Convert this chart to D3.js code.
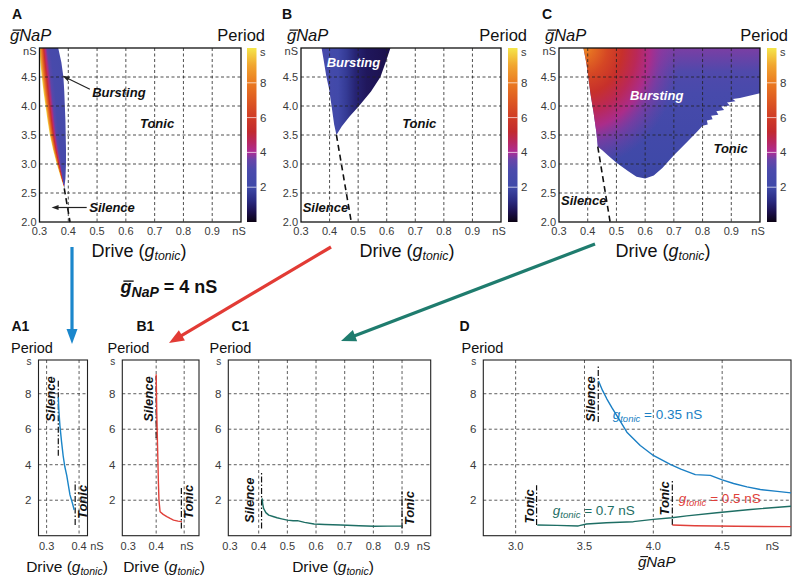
<!DOCTYPE html>
<html><head><meta charset="utf-8">
<script src="https://cdn.jsdelivr.net/npm/d3@7"></script>
<style>body{margin:0;background:#fff}svg{display:block;font-family:"Liberation Sans",Arial,Helvetica,sans-serif}</style>
</head><body>
<svg id="c" width="800" height="579"></svg>
<script>
// ================= DATA =================
// colour map of the period (s)
const cmapPeriods=[0,0.6,1.2,2,3,3.6,4,4.6,5.2,6,7,8,9,10];
const cmapColors=["#0b0214","#1c1150","#2a2a80","#3e49a8","#4b4aac","#6a44a8","#ad2c96","#b82760","#c22a2e","#cf3b26","#de5a22","#ea7b22","#f1a52f","#f5e64a"];
const periodTicks=[2,4,6,8];
const driveTicks=[0.3,0.4,0.5,0.6,0.7,0.8,0.9];
const gnapTicks=[2.0,2.5,3.0,3.5,4.0,4.5];

// Panel A : bursting region (edges at the same gNaP levels)
const gnapA=[5.0,4.75,4.5,4.25,4.0,3.75,3.5,3.25,3.0,2.75,2.58];
const leftA=[0.300,0.303,0.308,0.314,0.321,0.328,0.336,0.347,0.360,0.375,0.386];
const rightA=[0.365,0.376,0.383,0.386,0.388,0.390,0.391,0.392,0.392,0.390,0.386];
const fracA=[0,0.07,0.15,0.22,0.30,0.40,0.55,1];
const periodA=[9.8,8.5,7.0,5.5,4.3,3.3,2.8,2.6];
const sepA=[[0.386,2.58],[0.406,2.0]];

// Panel B
const regionB=[[0.370,5.0],[0.613,5.0],[0.596,4.75],[0.578,4.5],[0.545,4.25],[0.503,4.0],[0.470,3.82],[0.443,3.65],[0.424,3.50],[0.416,3.68],[0.407,4.0],[0.398,4.3],[0.389,4.5],[0.379,4.8],[0.372,5.0]];
const driveGradB=[0.37,0.376,0.39,0.43,0.46,0.49,0.53,0.613];
const periodB=[3.6,2.8,2.5,2.2,1.6,1.05,0.75,0.55];
const sepB=[[0.424,3.5],[0.476,2.0]];

// Panel C
const regionC=[[0.385,5.0],[1.0,5.0],[1.0,4.22],[0.93,4.14],[0.905,4.12],[0.915,4.08],[0.885,4.06],[0.895,4.01],[0.865,3.99],[0.875,3.93],[0.848,3.91],[0.855,3.85],[0.83,3.83],[0.835,3.77],[0.815,3.75],[0.818,3.68],[0.80,3.66],[0.78,3.55],[0.74,3.35],[0.70,3.15],[0.66,2.93],[0.63,2.80],[0.60,2.75],[0.57,2.78],[0.54,2.88],[0.50,3.02],[0.47,3.15],[0.45,3.24],[0.435,3.30],[0.43,3.55],[0.42,3.9],[0.41,4.2],[0.402,4.5],[0.395,4.75],[0.385,5.0]];
const gnapGradC=[5.0,4.6,4.2,3.6,3.0,2.75];
const periodBaseC=[3.7,3.1,2.7,2.35,2.05,1.9];
const hotCentreC=[0.385,5.05];
const hotRadiusC=0.34;
const radFracC=[0,0.1,0.25,0.4,0.55,0.68,0.8,1];
const periodHotC=[8.6,7.6,6.4,5.5,4.7,4.15,3.85,3.7];
const opacityHotC=[1,1,1,1,1,0.95,0.6,0];
const sepC=[[0.435,3.3],[0.478,2.0]];

// Bottom panels (gNaP = 4 nS)
const periodAxisTicks=[2,4,6,8];
const driveA1=[0.336,0.338,0.341,0.346,0.351,0.356,0.362,0.372,0.380,0.385];
const periodA1=[7.8,7.0,6.2,5.3,4.5,3.9,3.4,2.3,1.8,1.45];
const driveB1=[0.400,0.402,0.405,0.408,0.410,0.414,0.425,0.438,0.450,0.462,0.478,0.492];
const periodB1=[9.1,7.0,5.0,3.0,2.0,1.35,1.2,1.07,0.97,0.88,0.82,0.79];
const driveC1=[0.412,0.414,0.417,0.425,0.435,0.45,0.464,0.48,0.50,0.52,0.535,0.56,0.593,0.63,0.687,0.75,0.803,0.85,0.90];
const periodC1=[2.1,1.8,1.54,1.3,1.16,1.08,1.01,0.95,0.88,0.84,0.85,0.75,0.66,0.63,0.60,0.56,0.53,0.54,0.54];
const gnapD035=[3.602,3.63,3.663,3.70,3.735,3.808,3.905,4.0,4.123,4.2,4.305,4.414,4.5,4.583,4.68,4.777,4.9,5.0];
const periodD035=[8.72,8.2,7.7,7.2,6.76,5.83,5.08,4.52,4.02,3.75,3.44,3.40,3.15,2.94,2.75,2.6,2.5,2.41];
const gnapD07=[3.157,3.3,3.455,3.515,3.66,3.855,4.0,4.134,4.243,4.461,4.705,5.0];
const periodD07=[0.6,0.58,0.55,0.66,0.73,0.79,0.92,1.01,1.12,1.29,1.48,1.66];
const gnapD05=[4.138,4.3,4.6,5.0];
const periodD05=[0.6,0.56,0.53,0.51];
const markersA1=[{x:0.336,y0:4.5,y1:8.8,label:"Silence",side:-1,ty:7.7},{x:0.388,y0:0.6,y1:3.05,label:"Tonic",side:1,ty:1.9}];
const markersB1=[{x:0.400,y0:5.5,y1:9.0,label:"Silence",side:-1,ty:7.7},{x:0.490,y0:0.4,y1:2.75,label:"Tonic",side:1,ty:1.9}];
const markersC1=[{x:0.410,y0:0.4,y1:3.6,label:"Silence",side:-1.6,ty:2.0},{x:0.900,y0:0.4,y1:2.5,label:"Tonic",side:1,ty:1.55}];
const markersD=[{x:3.600,y0:6.4,y1:9.56,label:"Silence",side:-1,ty:7.7},{x:3.152,y0:0.6,y1:2.84,label:"Tonic",side:-1,ty:1.65},{x:4.138,y0:0.6,y1:3.2,label:"Tonic",side:-1.1,ty:2.1}];

// ================= DRAW =================
const svg=d3.select("#c");
const defs=svg.append("defs");
const cmap=d3.scaleLinear().domain(cmapPeriods).range(cmapColors).clamp(true);
const TICK="#3a3a3a";
let uid=0;

function makeLinearGrad(id,offsets,periods,attrs,units,opac){
  const gr=defs.append("linearGradient").attr("id",id).attr("gradientUnits",units||"objectBoundingBox");
  Object.entries(attrs).forEach(([k,v])=>gr.attr(k,v));
  offsets.forEach((o,i)=>gr.append("stop").attr("offset",o).attr("stop-color",cmap(periods[i])).attr("stop-opacity",opac?opac[i]:1));
  return "url(#"+id+")";
}

function gbarText(g,x,y,size,o){
  o=o||{};
  const col=o.color||"#111";
  const t=g.append("text").attr("x",x).attr("y",y).attr("font-size",size).attr("font-style","italic")
    .attr("font-weight",o.weight||"normal").attr("text-anchor",o.anchor||"start").attr("fill",col);
  t.append("tspan").text("g");
  if(o.sub){
    t.append("tspan").attr("font-size",size*0.78).attr("dy",size*0.22).text("NaP");
    if(o.suffix) t.append("tspan").attr("dy",-size*0.22).attr("font-size",size).attr("font-style","normal").text(o.suffix);
  } else t.append("tspan").text("NaP");
  const node=t.node();
  const gw=node.getSubStringLength(0,1);
  const sx=node.getStartPositionOfChar(0).x;
  g.append("line").attr("x1",sx+size*0.16).attr("x2",sx+gw+size*0.12).attr("y1",y-size*0.66).attr("y2",y-size*0.66)
    .attr("stroke",col).attr("stroke-width",Math.max(1,size*0.075));
}

function driveLabel(g,cx,y,size){
  const t=g.append("text").attr("x",cx).attr("y",y).attr("font-size",size).attr("text-anchor","middle").attr("fill","#111");
  t.append("tspan").text("Drive (");
  t.append("tspan").attr("font-style","italic").text("g");
  t.append("tspan").attr("font-style","italic").attr("font-size",size*0.68).attr("dy",size*0.22).text("tonic");
  t.append("tspan").attr("dy",-size*0.22).text(")");
}

function arrow(g,x1,y1,x2,y2,color,w,hl,hw){
  const dx=x2-x1,dy=y2-y1,L=Math.hypot(dx,dy),ux=dx/L,uy=dy/L;
  const bx=x2-ux*hl,by=y2-uy*hl;
  g.append("line").attr("x1",x1).attr("y1",y1).attr("x2",bx+ux).attr("y2",by+uy).attr("stroke",color).attr("stroke-width",w);
  g.append("path").attr("d",`M${x2},${y2}L${bx-uy*hw/2},${by+ux*hw/2}L${bx+uy*hw/2},${by-ux*hw/2}Z`).attr("fill",color);
}

function italicBold(g,x,y,txt,color,size,anchor){
  return g.append("text").attr("x",x).attr("y",y).attr("font-size",size||13).attr("font-weight","bold").attr("font-style","italic")
    .attr("fill",color||"#111").attr("text-anchor",anchor||"start").text(txt);
}

// ---------- top panels ----------
function topPanel(p){
  const g=svg.append("g");
  const x=d3.scaleLinear().domain([0.3,1.0]).range([p.x0,p.x1]);
  const y=d3.scaleLinear().domain([2.0,5.0]).range([222,48]);
  const line=d3.line().x(d=>x(d[0])).y(d=>y(d[1]));
  const cid="clip"+(uid++);
  defs.append("clipPath").attr("id",cid).append("rect").attr("x",p.x0).attr("y",48).attr("width",p.x1-p.x0).attr("height",174);
  const plot=g.append("g").attr("clip-path",`url(#${cid})`);
  p.region(plot,x,y,line);
  // grid
  g.append("g").selectAll("line").data(driveTicks.filter(d=>d>0.3)).join("line")
    .attr("x1",d=>x(d)).attr("x2",d=>x(d)).attr("y1",48).attr("y2",222)
    .attr("stroke","#222").attr("stroke-width",0.8).attr("stroke-dasharray","3,2.5");
  g.append("g").selectAll("line").data(gnapTicks.filter(d=>d>2)).join("line")
    .attr("y1",d=>y(d)).attr("y2",d=>y(d)).attr("x1",p.x0).attr("x2",p.x1)
    .attr("stroke","#222").attr("stroke-width",0.8).attr("stroke-dasharray","3,2.5");
  // separatrix
  g.append("path").attr("d",line(p.sep)).attr("fill","none").attr("stroke","#111").attr("stroke-width",1.6).attr("stroke-dasharray","6,4");
  // frame
  g.append("rect").attr("x",p.x0).attr("y",48).attr("width",p.x1-p.x0).attr("height",174).attr("fill","none").attr("stroke","#111").attr("stroke-width",1.3);
  // tick labels
  g.append("g").selectAll("text").data(driveTicks).join("text").attr("x",d=>x(d)).attr("y",235).attr("text-anchor","middle")
    .attr("font-size",11).attr("fill",TICK).text(d3.format(".1f"));
  g.append("text").attr("x",x(1.0)-2).attr("y",235).attr("text-anchor","middle").attr("font-size",11).attr("fill",TICK).text("nS");
  g.append("g").selectAll("text").data(gnapTicks).join("text").attr("x",p.x0-3).attr("y",d=>y(d)).attr("dy","0.35em").attr("text-anchor","end")
    .attr("font-size",11).attr("fill",TICK).text(d3.format(".1f"));
  g.append("text").attr("x",p.x0-3).attr("y",y(5.0)+3).attr("dy","0.35em").attr("text-anchor","end").attr("font-size",11).attr("fill",TICK).text("nS");
  // colorbar
  const cb=d3.scaleLinear().domain([0,10]).range([222,48]);
  const gid="cbg"+(uid++);
  const gr=defs.append("linearGradient").attr("id",gid).attr("x1",0).attr("y1",1).attr("x2",0).attr("y2",0);
  cmapPeriods.forEach((v,i)=>gr.append("stop").attr("offset",v/10).attr("stop-color",cmapColors[i]));
  g.append("rect").attr("x",p.cbx).attr("y",cb(10)).attr("width",9.5).attr("height",cb(0)-cb(10)).attr("fill",`url(#${gid})`);
  g.append("g").selectAll("line").data(periodTicks).join("line").attr("x1",p.cbx).attr("x2",p.cbx+9.5).attr("y1",d=>cb(d)).attr("y2",d=>cb(d))
    .attr("stroke","#fff").attr("stroke-opacity",0.75).attr("stroke-width",0.9);
  g.append("g").selectAll("text").data(periodTicks).join("text").attr("x",p.cbx+13).attr("y",d=>cb(d)).attr("dy","0.35em")
    .attr("font-size",11.5).attr("fill",TICK).text(d=>d);
  g.append("text").attr("x",p.cbx+13).attr("y",cb(10)+4).attr("dy","0.35em").attr("font-size",11).attr("fill",TICK).text("s");
  // titles
  g.append("text").attr("x",p.letterX).attr("y",18.5).attr("font-size",14).attr("font-weight","bold").attr("fill","#111").text(p.letter);
  gbarText(g,p.gX,41,16.5);
  g.append("text").attr("x",p.periodEnd).attr("y",41).attr("text-anchor","end").attr("font-size",16.5).attr("fill","#111").text("Period");
  driveLabel(g,p.driveC,256.5,18);
  // region labels
  italicBold(g,x(p.burst[0]),y(p.burst[1]),"Bursting",p.burstColor);
  italicBold(g,x(p.tonic[0]),y(p.tonic[1]),"Tonic");
  italicBold(g,x(p.silence[0]),y(p.silence[1]),"Silence");
  return {g,x,y};
}

// Panel A
const A=topPanel({x0:39.5,x1:241,cbx:247,letter:"A",letterX:12,gX:10,periodEnd:265,driveC:139,sep:sepA,
  burst:[0.483,4.16],burstColor:"#111",tonic:[0.649,3.62],silence:[0.473,2.18],
  region:(plot,x,y)=>{
    const fill=makeLinearGrad("gradA",fracA,periodA,{x1:0,y1:0,x2:1,y2:0});
    const lA=d3.scaleLinear().domain(gnapA).range(leftA);
    const rA=d3.scaleLinear().domain(gnapA).range(rightA);
    const gMin=d3.min(gnapA);
    for(let py=Math.round(y(d3.max(gnapA)));py<y(gMin);py++){
      const gv=y.invert(py+0.5); if(gv<gMin) break;
      const xl=x(lA(gv)),xr=x(rA(gv));
      plot.append("rect").attr("x",xl).attr("y",py).attr("width",Math.max(0.4,xr-xl)).attr("height",1.05).attr("fill",fill);
    }
  }});
// annotation arrows in A
arrow(A.g,A.x(0.475),A.y(4.29),A.x(0.38),A.y(4.52),"#222",1.2,7,5);
arrow(A.g,A.x(0.464),A.y(2.25),A.x(0.342),A.y(2.25),"#222",1.2,7,5);

// Panel B
topPanel({x0:301,x1:501,cbx:508,letter:"B",letterX:282,gX:287,periodEnd:527,driveC:407,sep:sepB,
  burst:[0.39,4.68],burstColor:"#fff",tonic:[0.654,3.62],silence:[0.306,2.18],
  region:(plot,x,y,line)=>{
    const x1=x(driveGradB[0]),x2=x(driveGradB[driveGradB.length-1]);
    const fill=makeLinearGrad("gradB",driveGradB.map(d=>(x(d)-x1)/(x2-x1)),periodB,{x1:x1,y1:0,x2:x2,y2:0},"userSpaceOnUse");
    plot.append("path").attr("d",line(regionB)+"Z").attr("fill",fill);
  }});

// Panel C
topPanel({x0:559,x1:760,cbx:767,letter:"C",letterX:542,gX:545,periodEnd:788,driveC:663,sep:sepC,
  burst:[0.547,4.1],burstColor:"#fff",tonic:[0.838,3.19],silence:[0.307,2.29],
  region:(plot,x,y,line)=>{
    const y1=y(gnapGradC[0]),y2=y(gnapGradC[gnapGradC.length-1]);
    const base=makeLinearGrad("gradC",gnapGradC.map(d=>(y(d)-y1)/(y2-y1)),periodBaseC,{x1:0,y1:y1,x2:0,y2:y2},"userSpaceOnUse");
    plot.append("path").attr("d",line(regionC)+"Z").attr("fill",base);
    const cx=x(hotCentreC[0]),cy=y(hotCentreC[1]),R=x(hotCentreC[0]+hotRadiusC)-cx;
    const rg=defs.append("radialGradient").attr("id","hotC").attr("gradientUnits","userSpaceOnUse")
      .attr("cx",cx).attr("cy",cy).attr("r",R).attr("fx",cx).attr("fy",cy)
      .attr("gradientTransform",`translate(${cx},${cy}) scale(1,1.25) translate(${-cx},${-cy})`);
    radFracC.forEach((o,i)=>rg.append("stop").attr("offset",o).attr("stop-color",cmap(periodHotC[i])).attr("stop-opacity",opacityHotC[i]));
    plot.append("path").attr("d",line(regionC)+"Z").attr("fill","url(#hotC)");
  }});

// ---------- connecting arrows ----------
const arr=svg.append("g");
arrow(arr,72,247,72,344,"#1b87cc",3.2,15,11);
arrow(arr,331,247,169,343,"#e23b35",3.2,15,12);
arrow(arr,595,244,341,341,"#1f7c6e",3.2,15,12);
gbarText(svg,120.5,293,18,{weight:"bold",sub:true,suffix:" = 4 nS"});

// ---------- bottom panels ----------
function bottomPanel(p){
  const g=svg.append("g");
  const x=d3.scaleLinear().domain(p.domain).range([p.x0,p.x1]);
  const y=d3.scaleLinear().domain([0,9.9]).range([535.7,360]);
  g.append("g").selectAll("line").data(p.grid).join("line").attr("x1",d=>x(d)).attr("x2",d=>x(d)).attr("y1",360).attr("y2",535.7)
    .attr("stroke","#333").attr("stroke-width",0.8).attr("stroke-dasharray","3,2.5");
  g.append("g").selectAll("line").data(periodAxisTicks).join("line").attr("y1",d=>y(d)).attr("y2",d=>y(d)).attr("x1",p.x0).attr("x2",p.x1)
    .attr("stroke","#333").attr("stroke-width",0.8).attr("stroke-dasharray","3,2.5");
  g.append("rect").attr("x",p.x0).attr("y",360).attr("width",p.x1-p.x0).attr("height",175.7).attr("fill","none").attr("stroke","#222").attr("stroke-width",1.1);
  // markers
  p.markers.forEach(m=>{
    g.append("line").attr("x1",x(m.x)).attr("x2",x(m.x)).attr("y1",y(m.y0)).attr("y2",y(m.y1))
      .attr("stroke","#111").attr("stroke-width",1.2).attr("stroke-dasharray","6,2,1.5,2");
    italicBold(g,0,0,m.label,"#111",13,"middle").attr("dy","0.35em")
      .attr("transform",`translate(${x(m.x)+m.side*7.5},${y(m.ty)}) rotate(-90)`);
  });
  const line=d3.line().x(d=>x(d[0])).y(d=>y(d[1]));
  p.curves.forEach(c=>{
    g.append("path").attr("d",line(d3.zip(c.xs,c.ys))).attr("fill","none").attr("stroke",c.color).attr("stroke-width",1.4).attr("stroke-linejoin","round");
  });
  // ticks
  g.append("g").selectAll("text").data(p.ticks).join("text").attr("x",d=>x(d)).attr("y",550).attr("text-anchor","middle")
    .attr("font-size",11).attr("fill",TICK).text(d3.format(".1f"));
  g.append("text").attr("x",x(p.nS)).attr("y",550).attr("text-anchor","middle").attr("font-size",11).attr("fill",TICK).text("nS");
  g.append("g").selectAll("text").data(periodAxisTicks).join("text").attr("x",p.x0-7).attr("y",d=>y(d)).attr("dy","0.35em")
    .attr("text-anchor","end").attr("font-size",11.5).attr("fill",TICK).text(d=>d);
  g.append("text").attr("x",p.x0-7).attr("y",y(9.9)+1).attr("dy","0.35em").attr("text-anchor","end").attr("font-size",10).attr("fill",TICK).text("s");
  g.append("text").attr("x",p.letterX).attr("y",330.5).attr("font-size",14).attr("font-weight","bold").attr("fill","#111").text(p.letter);
  g.append("text").attr("x",p.periodX).attr("y",353).attr("font-size",14.5).attr("fill","#111").text("Period");
  return {g,x,y};
}

bottomPanel({x0:38.5,x1:87.5,domain:[0.275,0.426],grid:[0.3,0.4],ticks:[0.3,0.4],nS:0.455,letter:"A1",letterX:11.5,periodX:11,
  markers:markersA1,curves:[{xs:driveA1,ys:periodA1,color:"#1a85c8"}]});
bottomPanel({x0:122.3,x1:199,domain:[0.279,0.553],grid:[0.4,0.5],ticks:[0.3,0.4],nS:0.51,letter:"B1",letterX:136.5,periodX:107.5,
  markers:markersB1,curves:[{xs:driveB1,ys:periodB1,color:"#e0403a"}]});
bottomPanel({x0:228.3,x1:430.7,domain:[0.294,1.0],grid:[0.4,0.5,0.6,0.7,0.8,0.9],ticks:driveTicks,nS:0.975,letter:"C1",letterX:231.5,periodX:209.5,
  markers:markersC1,curves:[{xs:driveC1,ys:periodC1,color:"#1e6e64"}]});
const D=bottomPanel({x0:483.3,x1:791,domain:[2.765,5.0],grid:[3.0,3.5,4.0,4.5],ticks:[3.0,3.5,4.0,4.5],nS:4.865,letter:"D",letterX:459.5,periodX:461.5,
  markers:markersD,curves:[{xs:gnapD035,ys:periodD035,color:"#1a7fc4"},{xs:gnapD07,ys:periodD07,color:"#1e6e64"},{xs:gnapD05,ys:periodD05,color:"#e0403a"}]});

// bottom x labels
driveLabel(svg,67,571.5,15.5);
driveLabel(svg,164,571.5,15.5);
driveLabel(svg,333,571.5,15.5);
gbarText(svg,656.7,566.5,15,{anchor:"middle"});

// curve labels in D
function gtonicLabel(g,x,y,val,color){
  const t=g.append("text").attr("x",x).attr("y",y).attr("font-size",13.5).attr("fill",color);
  t.append("tspan").attr("font-style","italic").text("g");
  t.append("tspan").attr("font-style","italic").attr("font-size",9.5).attr("dy",3).text("tonic");
  t.append("tspan").attr("dy",-3).text(" = "+val+" nS");
}
gtonicLabel(D.g,D.x(3.705),D.y(6.6),"0.35","#1a7fc4");
gtonicLabel(D.g,D.x(3.27),D.y(1.17),"0.7","#1e6e64");
gtonicLabel(D.g,D.x(4.185),D.y(1.82),"0.5","#e0403a");
</script>
</body></html>
